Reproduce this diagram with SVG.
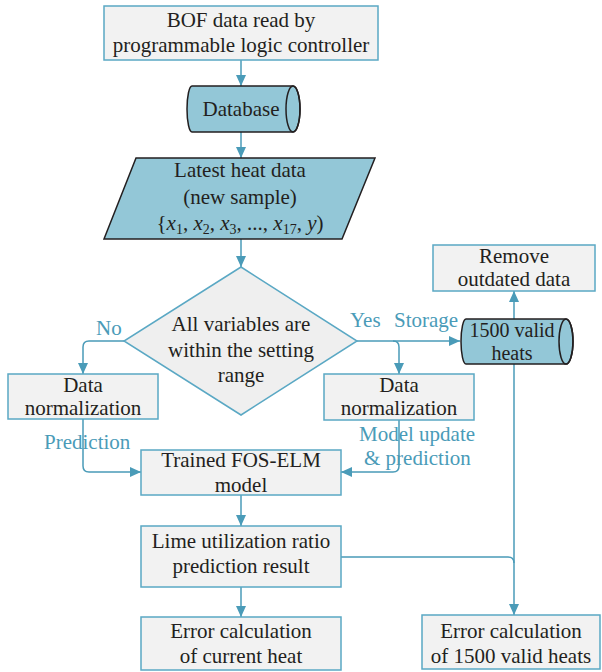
<svg xmlns="http://www.w3.org/2000/svg" width="602" height="672" viewBox="0 0 602 672">
<defs>
<marker id="arr" markerUnits="userSpaceOnUse" markerWidth="11" markerHeight="10" refX="11" refY="5" orient="auto">
<path d="M0,0 L11,5 L0,10 z" fill="#4a9bb8"/>
</marker>
<style>
.box{fill:#f2f2f2;stroke:#5aa8c4;stroke-width:1.5}
.cyl{fill:#93c7d7;stroke:#231f20;stroke-width:1.5}
.t{font-family:"Liberation Serif","Times New Roman","DejaVu Serif",serif;font-size:21px;fill:#231f20;text-anchor:middle}
.lbl{font-family:"Liberation Serif","Times New Roman","DejaVu Serif",serif;font-size:21px;fill:#4a9bb8}
.c{fill:none;stroke:#4a9bb8;stroke-width:1.5}
</style>
</defs>
<rect width="602" height="672" fill="#ffffff"/>

<g id="connectors">
<path class="c" d="M241,60 V86" marker-end="url(#arr)"/>
<path class="c" d="M241,132 V158" marker-end="url(#arr)"/>
<path class="c" d="M241,239 V267" marker-end="url(#arr)"/>
<path class="c" d="M124,341 H89 Q83,341 83,347 V374" marker-end="url(#arr)"/>
<path class="c" d="M357,341 H460" marker-end="url(#arr)"/>
<path class="c" d="M393,341 Q399,341 399,347 V374" marker-end="url(#arr)"/>
<path class="c" d="M83,419 V466 Q83,472 89,472 H141" marker-end="url(#arr)"/>
<path class="c" d="M399,420 V466 Q399,472 393,472 H341" marker-end="url(#arr)"/>
<path class="c" d="M514,319 V291" marker-end="url(#arr)"/>
<path class="c" d="M241,495 V526" marker-end="url(#arr)"/>
<path class="c" d="M241,587 V617" marker-end="url(#arr)"/>
<path class="c" d="M514,364 V615" marker-end="url(#arr)"/>
<path class="c" d="M341,557 H508 Q514,557 514,563"/>
<text class="lbl" x="96" y="335">No</text>
<text class="lbl" x="350" y="327">Yes</text>
<text class="lbl" x="394" y="327">Storage</text>
<text class="lbl" x="44" y="449">Prediction</text>
<text class="lbl" x="359" y="441">Model update</text>
<text class="lbl" x="364" y="465">&amp; prediction</text>
</g>

<g id="plc">
<rect class="box" x="104" y="6" width="274" height="54"/>
<text class="t" x="241" y="27">BOF data read by</text>
<text class="t" x="241" y="52">programmable logic controller</text>
</g>

<g id="database">
<path class="cyl" d="M192,86 H293 A7,23 0 0 1 293,132 H192 A5,23 0 0 1 192,86 Z"/>
<ellipse cx="293" cy="109" rx="7" ry="23" fill="none" stroke="#231f20" stroke-width="1.5"/>
<text class="t" x="241" y="116">Database</text>
</g>

<g id="latest">
<polygon class="cyl" points="136,158 375,158 342,239 104,239"/>
<text class="t" x="240" y="177">Latest heat data</text>
<text class="t" x="240" y="204">(new sample)</text>
<text class="t" x="240" y="230">{<tspan font-style="italic">x</tspan><tspan font-size="14" dy="4">1</tspan><tspan dy="-4">, </tspan><tspan font-style="italic">x</tspan><tspan font-size="14" dy="4">2</tspan><tspan dy="-4">, </tspan><tspan font-style="italic">x</tspan><tspan font-size="14" dy="4">3</tspan><tspan dy="-4">, ..., </tspan><tspan font-style="italic">x</tspan><tspan font-size="14" dy="4">17</tspan><tspan dy="-4">, </tspan><tspan font-style="italic">y</tspan>)</text>
</g>

<g id="decision">
<polygon points="241,267 357,341 241,415 124,341" fill="#efefef" stroke="#5aa8c4" stroke-width="1.5"/>
<text class="t" x="241" y="331">All variables are</text>
<text class="t" x="241" y="357">within the setting</text>
<text class="t" x="241" y="382">range</text>
</g>

<g id="norm-left">
<rect class="box" x="8" y="374" width="150" height="45"/>
<text class="t" x="83" y="392">Data</text>
<text class="t" x="83" y="415">normalization</text>
</g>

<g id="norm-right">
<rect class="box" x="324" y="374" width="150" height="46"/>
<text class="t" x="399" y="392">Data</text>
<text class="t" x="399" y="415">normalization</text>
</g>

<g id="storage">
<path class="cyl" d="M466,319 H566 A7,22.5 0 0 1 566,364 H466 A5,22.5 0 0 1 466,319 Z"/>
<ellipse cx="566" cy="341.5" rx="7" ry="22.5" fill="none" stroke="#231f20" stroke-width="1.5"/>
<text class="t" x="512" y="337" style="font-size:20px">1500 valid</text>
<text class="t" x="512" y="360" style="font-size:20px">heats</text>
</g>

<g id="remove">
<rect class="box" x="433" y="245" width="162" height="46"/>
<text class="t" x="514" y="263">Remove</text>
<text class="t" x="514" y="286">outdated data</text>
</g>

<g id="model">
<rect class="box" x="141" y="450" width="200" height="45"/>
<text class="t" x="241" y="467">Trained FOS-ELM</text>
<text class="t" x="241" y="492">model</text>
</g>

<g id="result">
<rect class="box" x="141" y="526" width="200" height="61"/>
<text class="t" x="241" y="548">Lime utilization ratio</text>
<text class="t" x="241" y="573">prediction result</text>
</g>

<g id="err-current">
<rect class="box" x="141" y="617" width="200" height="53"/>
<text class="t" x="241" y="638">Error calculation</text>
<text class="t" x="241" y="663">of current heat</text>
</g>

<g id="err-1500">
<rect class="box" x="422" y="615" width="178" height="54"/>
<text class="t" x="511" y="638">Error calculation</text>
<text class="t" x="511" y="663">of 1500 valid heats</text>
</g>
</svg>
